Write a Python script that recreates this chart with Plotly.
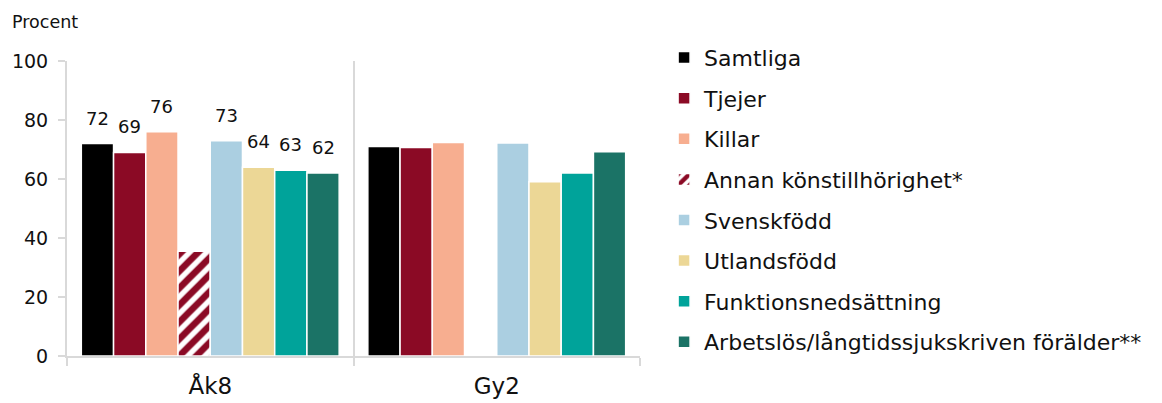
import plotly.graph_objects as go

categories = ["Åk8", "Gy2"]
series_names = [
    "Samtliga",
    "Tjejer",
    "Killar",
    "Annan könstillhörighet*",
    "Svenskfödd",
    "Utlandsfödd",
    "Funktionsnedsättning",
    "Arbetslös/långtidssjukskriven förälder**",
]
values_ak8 = [72, 69, 76, 35.5, 73, 64, 63, 62]
values_gy2 = [71, 70.7, 72.4, None, 72.2, 59.1, 62, 69.2]
labels_ak8 = ["72", "69", "76", "", "73", "64", "63", "62"]
colors = ["#000000", "#8B0A25", "#F7AE90", "#8B0A25", "#ABCFE1", "#ECD796", "#00A39A", "#1B7366"]

FONT = "DejaVu Sans"
TXT = "#111111"
GRID = "#d9d9d9"

# page is drawn with an 8px body margin, so the plot box is nudged back by 8px
PLOT_W, PLOT_H = 573, 295
ML, MT = 59, 53
BARGAP = 0.1

fig = go.Figure()
for i, name in enumerate(series_names):
    marker = dict(color=colors[i], line=dict(color="white", width=1.5))
    if i == 3:
        marker = dict(
            color="white",
            line=dict(color="white", width=1.5),
            pattern=dict(shape="/", fgcolor=colors[i], bgcolor="white", fgopacity=1,
                         fillmode="replace", size=12, solidity=0.55),
        )
    fig.add_trace(
        go.Bar(
            x=categories,
            y=[values_ak8[i], values_gy2[i]],
            name=name,
            marker=marker,
            legendgroup=name,
        )
    )

# value labels above the Åk8 bars
bar_w = PLOT_W / len(categories) * (1 - BARGAP) / len(series_names)
for i, lab in enumerate(labels_ak8):
    if not lab:
        continue
    fig.add_annotation(
        x=categories[0],
        y=values_ak8[i],
        text=lab,
        showarrow=False,
        xshift=(i - (len(series_names) - 1) / 2) * bar_w,
        yanchor="bottom",
        yshift=13,
        font=dict(size=18, family=FONT, color=TXT),
    )

fig.add_annotation(
    text="Procent",
    xref="paper",
    yref="paper",
    x=(10 - 8 - ML) / PLOT_W,
    y=(MT + PLOT_H - (22 - 8)) / PLOT_H,
    xanchor="left",
    yanchor="middle",
    showarrow=False,
    font=dict(size=17.5, family=FONT, color=TXT),
)

fig.update_layout(
    width=1162,
    height=403,
    barmode="group",
    bargap=BARGAP,
    bargroupgap=0,
    plot_bgcolor="white",
    paper_bgcolor="white",
    margin=dict(l=ML, r=1162 - ML - PLOT_W, t=MT, b=403 - MT - PLOT_H, autoexpand=False),
    font=dict(family=FONT, color=TXT),
    legend=dict(
        x=1.042,
        y=1.082,
        xanchor="left",
        yanchor="top",
        font=dict(size=22, family=FONT, color=TXT),
        traceorder="grouped",
        tracegroupgap=9,
        itemwidth=30,
        maxheight=400,
    ),
)
fig.update_xaxes(
    automargin=False,
    showline=True,
    linecolor=GRID,
    linewidth=2,
    showgrid=True,
    gridcolor=GRID,
    gridwidth=2,
    tickson="boundaries",
    ticks="outside",
    ticklen=8,
    tickwidth=2,
    tickcolor=GRID,
    tickfont=dict(size=23, family=FONT, color=TXT),
    ticklabelstandoff=8,
)
fig.update_yaxes(
    automargin=False,
    range=[0, 100],
    tickvals=[0, 20, 40, 60, 80, 100],
    showline=True,
    linecolor=GRID,
    linewidth=2,
    showgrid=False,
    zeroline=False,
    ticks="outside",
    ticklen=7,
    tickwidth=2,
    tickcolor=GRID,
    tickfont=dict(size=19, family=FONT, color=TXT),
    ticklabelstandoff=6,
)

fig.write_html("out.html")
